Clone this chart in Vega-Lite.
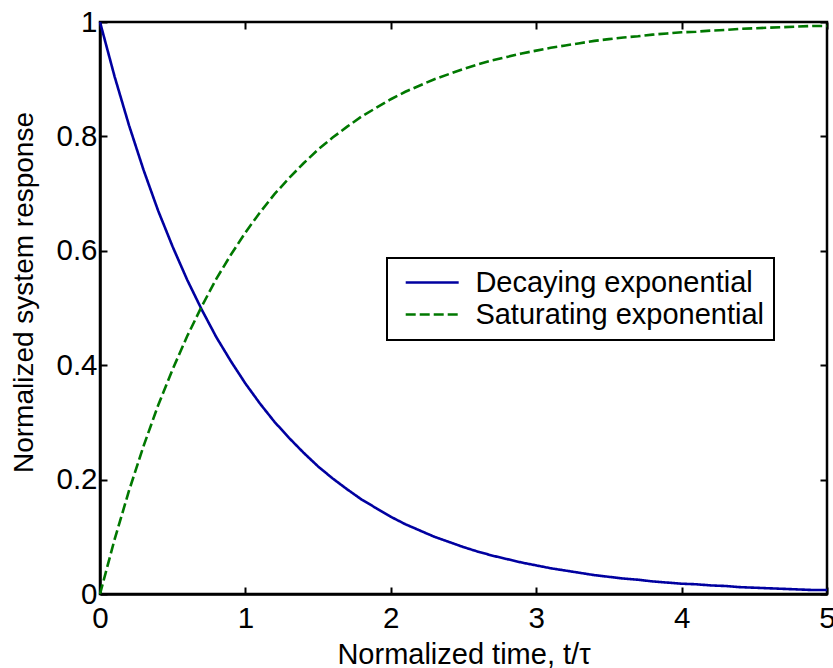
{
  "$schema": "https://vega.github.io/schema/vega-lite/v6.json",
  "width": 727,
  "height": 572,
  "autosize": {"type": "none"},
  "padding": {"left": 100, "top": 22, "right": 6, "bottom": 74},
  "background": "white",
  "config": {
    "view": {"stroke": "black", "strokeWidth": 2.5},
    "font": "Liberation Sans",
    "axis": {
      "grid": false,
      "domainColor": "black",
      "domainWidth": 2.5,
      "tickColor": "black",
      "tickWidth": 2,
      "tickSize": -7,
      "labelColor": "black",
      "labelFont": "Liberation Sans",
      "labelFontSize": 29.5,
      "labelFlush": false,
      "labelLimit": 0,
      "labelOverlap": false,
      "titleFont": "Liberation Sans",
      "titleFontSize": 28,
      "titleFontWeight": "normal",
      "titleColor": "black"
    }
  },
  "data": {
    "values": [
      {"t":0.0,"v":1.000,"s":"Decaying exponential"},{"t":0.1,"v":0.905,"s":"Decaying exponential"},{"t":0.2,"v":0.819,"s":"Decaying exponential"},{"t":0.3,"v":0.741,"s":"Decaying exponential"},{"t":0.4,"v":0.670,"s":"Decaying exponential"},{"t":0.5,"v":0.607,"s":"Decaying exponential"},{"t":0.6,"v":0.549,"s":"Decaying exponential"},{"t":0.7,"v":0.497,"s":"Decaying exponential"},{"t":0.8,"v":0.449,"s":"Decaying exponential"},{"t":0.9,"v":0.407,"s":"Decaying exponential"},{"t":1.0,"v":0.368,"s":"Decaying exponential"},{"t":1.1,"v":0.333,"s":"Decaying exponential"},{"t":1.2,"v":0.301,"s":"Decaying exponential"},{"t":1.3,"v":0.273,"s":"Decaying exponential"},{"t":1.4,"v":0.247,"s":"Decaying exponential"},{"t":1.5,"v":0.223,"s":"Decaying exponential"},{"t":1.6,"v":0.202,"s":"Decaying exponential"},{"t":1.7,"v":0.183,"s":"Decaying exponential"},{"t":1.8,"v":0.165,"s":"Decaying exponential"},{"t":1.9,"v":0.150,"s":"Decaying exponential"},{"t":2.0,"v":0.135,"s":"Decaying exponential"},{"t":2.1,"v":0.122,"s":"Decaying exponential"},{"t":2.2,"v":0.111,"s":"Decaying exponential"},{"t":2.3,"v":0.100,"s":"Decaying exponential"},{"t":2.4,"v":0.091,"s":"Decaying exponential"},{"t":2.5,"v":0.082,"s":"Decaying exponential"},{"t":2.6,"v":0.074,"s":"Decaying exponential"},{"t":2.7,"v":0.067,"s":"Decaying exponential"},{"t":2.8,"v":0.061,"s":"Decaying exponential"},{"t":2.9,"v":0.055,"s":"Decaying exponential"},{"t":3.0,"v":0.050,"s":"Decaying exponential"},{"t":3.1,"v":0.045,"s":"Decaying exponential"},{"t":3.2,"v":0.041,"s":"Decaying exponential"},{"t":3.3,"v":0.037,"s":"Decaying exponential"},{"t":3.4,"v":0.033,"s":"Decaying exponential"},{"t":3.5,"v":0.030,"s":"Decaying exponential"},{"t":3.6,"v":0.027,"s":"Decaying exponential"},{"t":3.7,"v":0.025,"s":"Decaying exponential"},{"t":3.8,"v":0.022,"s":"Decaying exponential"},{"t":3.9,"v":0.020,"s":"Decaying exponential"},{"t":4.0,"v":0.018,"s":"Decaying exponential"},{"t":4.1,"v":0.017,"s":"Decaying exponential"},{"t":4.2,"v":0.015,"s":"Decaying exponential"},{"t":4.3,"v":0.014,"s":"Decaying exponential"},{"t":4.4,"v":0.012,"s":"Decaying exponential"},{"t":4.5,"v":0.011,"s":"Decaying exponential"},{"t":4.6,"v":0.010,"s":"Decaying exponential"},{"t":4.7,"v":0.009,"s":"Decaying exponential"},{"t":4.8,"v":0.008,"s":"Decaying exponential"},{"t":4.9,"v":0.007,"s":"Decaying exponential"},{"t":5.0,"v":0.007,"s":"Decaying exponential"},
      {"t":0.0,"v":0.000,"s":"Saturating exponential"},{"t":0.1,"v":0.095,"s":"Saturating exponential"},{"t":0.2,"v":0.181,"s":"Saturating exponential"},{"t":0.3,"v":0.259,"s":"Saturating exponential"},{"t":0.4,"v":0.330,"s":"Saturating exponential"},{"t":0.5,"v":0.393,"s":"Saturating exponential"},{"t":0.6,"v":0.451,"s":"Saturating exponential"},{"t":0.7,"v":0.503,"s":"Saturating exponential"},{"t":0.8,"v":0.551,"s":"Saturating exponential"},{"t":0.9,"v":0.593,"s":"Saturating exponential"},{"t":1.0,"v":0.632,"s":"Saturating exponential"},{"t":1.1,"v":0.667,"s":"Saturating exponential"},{"t":1.2,"v":0.699,"s":"Saturating exponential"},{"t":1.3,"v":0.727,"s":"Saturating exponential"},{"t":1.4,"v":0.753,"s":"Saturating exponential"},{"t":1.5,"v":0.777,"s":"Saturating exponential"},{"t":1.6,"v":0.798,"s":"Saturating exponential"},{"t":1.7,"v":0.817,"s":"Saturating exponential"},{"t":1.8,"v":0.835,"s":"Saturating exponential"},{"t":1.9,"v":0.850,"s":"Saturating exponential"},{"t":2.0,"v":0.865,"s":"Saturating exponential"},{"t":2.1,"v":0.878,"s":"Saturating exponential"},{"t":2.2,"v":0.889,"s":"Saturating exponential"},{"t":2.3,"v":0.900,"s":"Saturating exponential"},{"t":2.4,"v":0.909,"s":"Saturating exponential"},{"t":2.5,"v":0.918,"s":"Saturating exponential"},{"t":2.6,"v":0.926,"s":"Saturating exponential"},{"t":2.7,"v":0.933,"s":"Saturating exponential"},{"t":2.8,"v":0.939,"s":"Saturating exponential"},{"t":2.9,"v":0.945,"s":"Saturating exponential"},{"t":3.0,"v":0.950,"s":"Saturating exponential"},{"t":3.1,"v":0.955,"s":"Saturating exponential"},{"t":3.2,"v":0.959,"s":"Saturating exponential"},{"t":3.3,"v":0.963,"s":"Saturating exponential"},{"t":3.4,"v":0.967,"s":"Saturating exponential"},{"t":3.5,"v":0.970,"s":"Saturating exponential"},{"t":3.6,"v":0.973,"s":"Saturating exponential"},{"t":3.7,"v":0.975,"s":"Saturating exponential"},{"t":3.8,"v":0.978,"s":"Saturating exponential"},{"t":3.9,"v":0.980,"s":"Saturating exponential"},{"t":4.0,"v":0.982,"s":"Saturating exponential"},{"t":4.1,"v":0.983,"s":"Saturating exponential"},{"t":4.2,"v":0.985,"s":"Saturating exponential"},{"t":4.3,"v":0.986,"s":"Saturating exponential"},{"t":4.4,"v":0.988,"s":"Saturating exponential"},{"t":4.5,"v":0.989,"s":"Saturating exponential"},{"t":4.6,"v":0.990,"s":"Saturating exponential"},{"t":4.7,"v":0.991,"s":"Saturating exponential"},{"t":4.8,"v":0.992,"s":"Saturating exponential"},{"t":4.9,"v":0.993,"s":"Saturating exponential"},{"t":5.0,"v":0.993,"s":"Saturating exponential"}
    ]
  },
  "resolve": {"axis": {"x": "independent", "y": "independent"}},
  "layer": [
    {
      "mark": {"type": "line", "strokeWidth": 2.6, "clip": false},
      "encoding": {
        "x": {
          "field": "t", "type": "quantitative",
          "scale": {"domain": [0, 5], "nice": false, "zero": false},
          "axis": {
            "values": [0, 1, 2, 3, 4, 5],
            "format": "~g",
            "title": "Normalized time, t/τ",
            "titleFontSize": 29,
            "labelBaseline": "alphabetic",
            "labelPadding": 40,
            "titleBaseline": "alphabetic",
            "titleY": 69
          }
        },
        "y": {
          "field": "v", "type": "quantitative",
          "scale": {"domain": [0, 1], "nice": false},
          "axis": {
            "values": [0, 0.2, 0.4, 0.6, 0.8, 1],
            "format": "~g",
            "title": "Normalized system response",
            "labelPadding": 10,
            "titleY": 270,
            "titleX": -62
          }
        },
        "color": {
          "field": "s", "type": "nominal",
          "scale": {"domain": ["Decaying exponential", "Saturating exponential"], "range": ["#0000a0", "#007800"]},
          "legend": {
            "title": null,
            "orient": "none",
            "legendX": 287,
            "legendY": 236,
            "padding": 10,
            "symbolOffset": 20.7,
            "symbolType": "M-3,0H3",
            "symbolSize": 312,
            "symbolStrokeWidth": 2.6,
            "labelFontSize": 29,
            "labelFont": "Liberation Sans",
            "labelColor": "black",
            "labelOffset": 28.7,
            "labelLimit": 0,
            "rowPadding": 2,
            "fillColor": "white",
            "strokeColor": "black",
            "encode": {"legend": {"update": {"strokeWidth": {"value": 2}}}}
          }
        },
        "strokeDash": {
          "field": "s", "type": "nominal",
          "scale": {"domain": ["Decaying exponential", "Saturating exponential"], "range": [[1, 0], [10, 4]]},
          "legend": null
        }
      }
    },
    {
      "mark": {"type": "line", "opacity": 0, "clip": false},
      "encoding": {
        "x": {
          "field": "t", "type": "quantitative",
          "axis": {"orient": "top", "values": [0, 1, 2, 3, 4, 5], "labels": false, "title": null, "domain": false}
        },
        "y": {
          "field": "v", "type": "quantitative",
          "axis": {"orient": "right", "values": [0, 0.2, 0.4, 0.6, 0.8, 1], "labels": false, "title": null, "domain": false}
        },
        "detail": {"field": "s", "type": "nominal"}
      }
    }
  ]
}
